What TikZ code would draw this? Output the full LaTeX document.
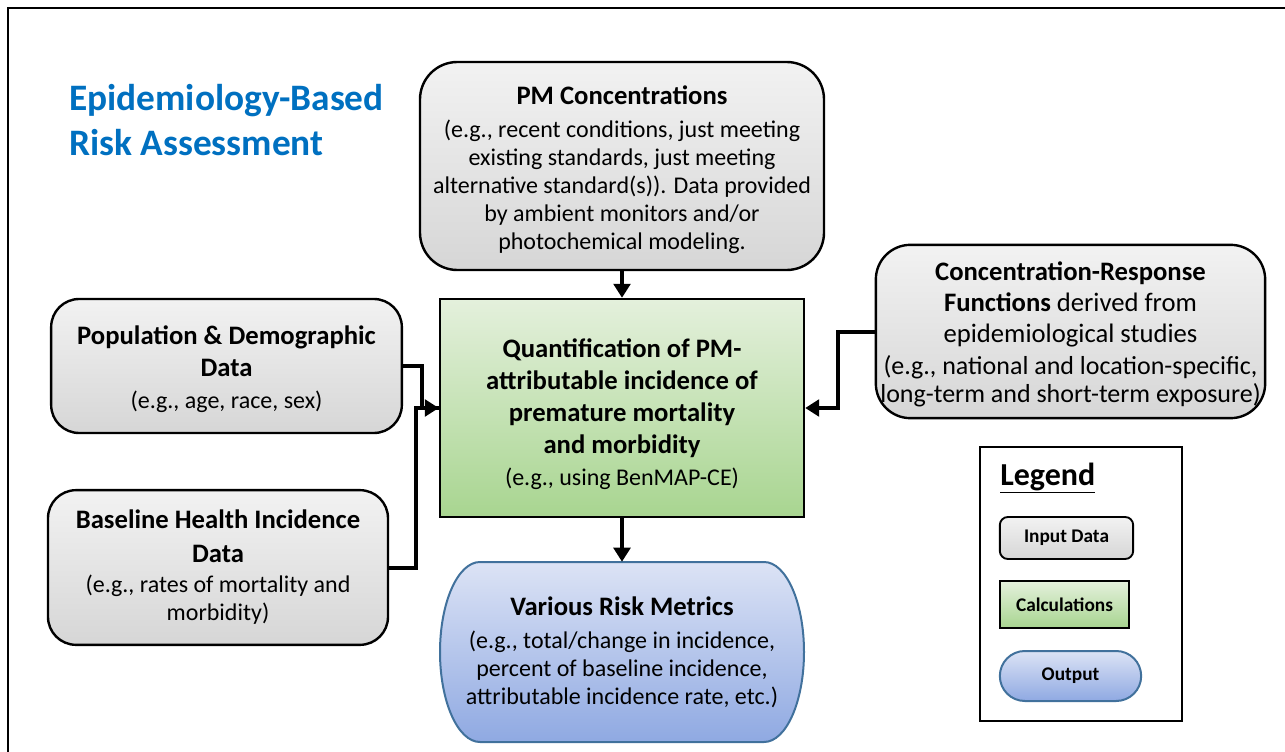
\documentclass[tikz,border=0pt]{standalone}
\usepackage{fontspec}
\setmainfont{Carlito}
\usetikzlibrary{arrows.meta, shapes.misc, positioning, calc}

\definecolor{ttlblue}{HTML}{0070C0}
\definecolor{grayT}{HTML}{F2F2F2}
\definecolor{grayB}{HTML}{D6D6D6}
\definecolor{calcT}{HTML}{E4F0DC}
\definecolor{calcB}{HTML}{A8D590}
\definecolor{outT}{HTML}{DCE3F5}
\definecolor{outB}{HTML}{8FA9E2}
\definecolor{outline}{HTML}{41719C}

\newcommand{\hdr}[1]{{\fontsize{20}{24}\selectfont\bfseries #1}}
\newcommand{\lrg}[1]{{\fontsize{20}{24}\selectfont #1}}

\tikzset{
    inbox/.style={draw, line width=1.8pt, rounded corners=24pt, top color=grayT, bottom color=grayB,
        align=center, inner sep=0pt, font=\fontsize{18}{21}\selectfont},
    calcbox/.style={draw, line width=1.8pt, top color=calcT, bottom color=calcB,
        align=center, inner sep=0pt, font=\fontsize{18}{21}\selectfont},
    outshade/.style={draw=outline, line width=1.5pt, top color=outT, bottom color=outB},
    legtxt/.style={font=\fontsize{14.5}{17}\selectfont\bfseries},
    conn/.style={line width=3pt, -{Triangle[length=10.5pt, width=12.5pt]}},
    wire/.style={line width=3pt}
}

\begin{document}
\begin{tikzpicture}[x=0.75pt, y=-0.75pt]
    \useasboundingbox (0,0) rectangle (1285,752);
    \clip (0,0) rectangle (1285,752);
    \draw[line width=2.2pt] (8,770) -- (8,8) -- (1300,8);

    \node[anchor=west, align=left, inner sep=0pt, text=ttlblue, font=\fontsize{28}{34}\selectfont\bfseries] (title) at (69,120)
        {Epidemiology-Based\\Risk Assessment};

    \node[inbox, minimum width=303pt, minimum height=156pt, rounded corners=28pt] (pm) at (622,166)
        {\rule{0pt}{20pt}\hdr{PM Concentrations}\\[3.5pt](e.g., recent conditions, just meeting\\existing standards, just meeting\\alternative standard(s)). Data provided\\by ambient monitors and/or\\photochemical modeling.};
    \node[calcbox, minimum width=273pt, minimum height=163.5pt] (calc) at (622,408)
        {\rule{0pt}{23pt}\hdr{Quantification of PM-}\\[3pt]\hdr{attributable incidence of}\\[3pt]\hdr{premature mortality}\\[3pt]\hdr{and morbidity}\\[3pt](e.g., using BenMAP-CE)};
    \node[inbox, minimum width=263pt, minimum height=100.5pt, rounded corners=21pt] (pop) at (226.5,366)
        {\rule{0pt}{19pt}\hdr{Population \& Demographic}\\[3pt]\hdr{Data}\\[3pt](e.g., age, race, sex)};
    \node[inbox, minimum width=255pt, minimum height=116pt, rounded corners=21pt] (base) at (218,567.5)
        {\hdr{Baseline Health Incidence}\\[4.5pt]\hdr{Data}\\[1.5pt](e.g., rates of mortality and\\morbidity)};
    \node[inbox, minimum width=292pt, minimum height=130pt, rounded corners=26pt, font=\fontsize{19.5}{21}\selectfont] (cr) at (1070.5,331.5)
        {\rule{0pt}{19pt}\hdr{Concentration-Response}\\[2pt]\hdr{Functions} \lrg{derived from}\\[2pt]\lrg{epidemiological studies}\\[3.5pt](e.g., national and location-specific,\\long-term and short-term exposure)};

    \shade[outshade] (480,562) -- (764,562) arc[start angle=-90, end angle=90, x radius=40, y radius=90]
        -- (480,742) arc[start angle=90, end angle=270, x radius=40, y radius=90] -- cycle;
    \node[minimum width=273pt, minimum height=135pt, align=center, inner sep=0pt, font=\fontsize{18}{21}\selectfont] (out) at (622,652)
        {\hdr{Various Risk Metrics}\\[3.5pt](e.g., total/change in incidence,\\percent of baseline incidence,\\attributable incidence rate, etc.)};

    \draw[conn] (pm) -- (calc);
    \draw[conn] (calc) -- (out);
    \draw[wire] (base.east) -- ++(27,0) |- (calc.west);
    \draw[conn] (pop.east) -- ++(19,0) |- (calc.west);
    \draw[conn] (cr.west) -- ++(-37,0) |- (calc.east);

    \node[draw, line width=1.1pt, minimum width=151.5pt, minimum height=205.5pt, inner sep=0pt] (leg) at (1081,584) {};
    \node[anchor=west, inner sep=0pt, font=\fontsize{24}{28}\selectfont\bfseries] (legt) at (1000,478) {\underline{Legend}};
    \node[inbox, legtxt, rounded corners=6pt, line width=1.4pt, minimum width=100pt, minimum height=31.5pt] (lin) at (1066.5,538) {Input Data};
    \node[calcbox, legtxt, line width=1.2pt, minimum width=97pt, minimum height=35pt] (lcalc) at (1064.5,604.5) {Calculations};
    \node[rounded rectangle, outshade, legtxt, minimum width=106pt, minimum height=37.5pt, inner sep=0pt] (lout) at (1070.5,676) {Output};
\end{tikzpicture}
\end{document}
